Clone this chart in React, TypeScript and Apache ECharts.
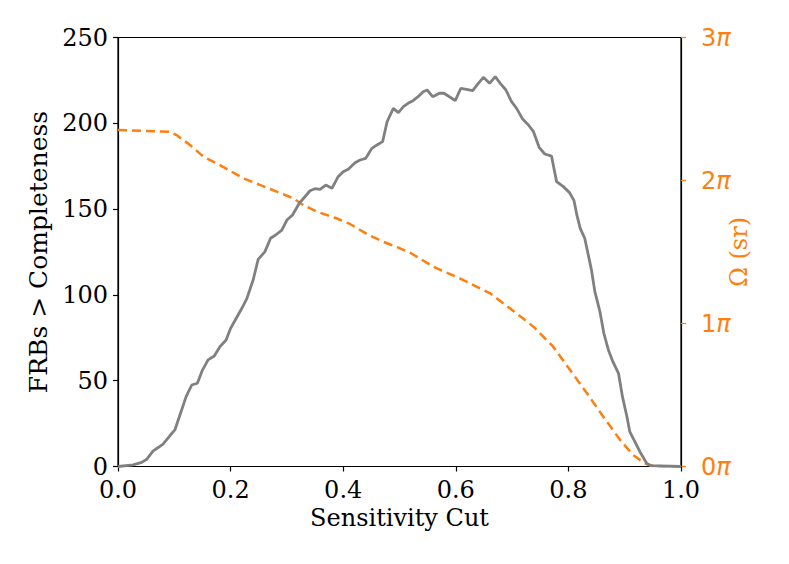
import React, { useEffect, useRef } from "react";
import * as echarts from "echarts";

// Grey curve: FRBs above completeness vs sensitivity cut
const cutX = [0, 0.027, 0.042, 0.051, 0.062, 0.072, 0.08, 0.092, 0.101, 0.11, 0.121, 0.131, 0.141, 0.15, 0.16, 0.171, 0.181, 0.192, 0.2, 0.21, 0.22, 0.229, 0.24, 0.249, 0.261, 0.271, 0.28, 0.291, 0.3, 0.31, 0.322, 0.332, 0.341, 0.35, 0.359, 0.369, 0.38, 0.391, 0.4, 0.409, 0.421, 0.43, 0.44, 0.451, 0.46, 0.47, 0.478, 0.489, 0.498, 0.507, 0.517, 0.524, 0.533, 0.542, 0.549, 0.559, 0.571, 0.579, 0.59, 0.599, 0.609, 0.619, 0.63, 0.64, 0.649, 0.66, 0.67, 0.679, 0.689, 0.699, 0.708, 0.719, 0.729, 0.738, 0.748, 0.758, 0.77, 0.779, 0.791, 0.802, 0.81, 0.815, 0.821, 0.829, 0.837, 0.841, 0.847, 0.856, 0.863, 0.871, 0.879, 0.889, 0.896, 0.904, 0.909, 0.918, 0.927, 0.939, 0.945, 1.0];
const frbCount = [0, 0.9, 2.4, 4.2, 9.0, 11.2, 13.1, 17.9, 21.3, 30.0, 40.7, 47.5, 48.5, 56.2, 62.1, 64.4, 69.8, 73.7, 80.5, 86.4, 92.2, 98.0, 108.7, 120.7, 125.2, 133.0, 134.9, 137.8, 143.6, 146.6, 153.4, 157.2, 160.7, 161.9, 161.5, 164.0, 162.1, 168.9, 171.8, 173.2, 177.0, 178.6, 179.6, 185.4, 187.4, 189.3, 200.9, 208.7, 206.2, 209.7, 212.0, 213.2, 215.5, 218.4, 219.4, 215.5, 217.5, 217.5, 215.2, 213.2, 220.4, 219.8, 219.0, 223.3, 226.8, 223.3, 227.2, 223.3, 219.4, 212.6, 208.7, 202.3, 199.0, 195.1, 186.0, 182.1, 180.9, 166.0, 163.1, 159.6, 154.9, 146.6, 138.8, 133.0, 120.7, 114.5, 101.9, 90.2, 77.6, 67.9, 61.1, 54.3, 40.7, 29.0, 20.3, 14.5, 8.6, 1.9, 0.5, 0];

// Orange dashed curve: solid angle (in units of pi) vs sensitivity cut
const omegaX = [0, 0.092, 0.104, 0.128, 0.152, 0.181, 0.223, 0.252, 0.282, 0.311, 0.329, 0.353, 0.388, 0.412, 0.442, 0.471, 0.501, 0.519, 0.56, 0.607, 0.661, 0.696, 0.738, 0.773, 0.803, 0.833, 0.862, 0.892, 0.915, 0.936, 0.951, 1.0];
const omegaPi = [2.353, 2.341, 2.318, 2.248, 2.166, 2.108, 2.015, 1.969, 1.922, 1.876, 1.829, 1.782, 1.736, 1.696, 1.626, 1.572, 1.526, 1.495, 1.397, 1.316, 1.211, 1.106, 0.978, 0.838, 0.675, 0.512, 0.348, 0.185, 0.08, 0.022, 0.003, 0];

const xTicks = [0, 0.2, 0.4, 0.6, 0.8, 1.0];
const leftTicks = [0, 50, 100, 150, 200, 250];
const rightTicks = [0, 1, 2, 3];

const ORANGE = "#ff7f0e";
const SERIF = "'DejaVu Serif', serif";
const SANS = "'DejaVu Sans', sans-serif";
const FS = 24;

export default function App() {
  const ref = useRef<HTMLDivElement>(null);
  useEffect(() => {
    if (!ref.current) return;
    const chart = echarts.init(ref.current, undefined, { renderer: "svg" });
    const frbData = cutX.map((x, i) => [x, frbCount[i]]);
    const omegaData = omegaX.map((x, i) => [x, omegaPi[i]]);
    chart.setOption({
      animation: false,
      backgroundColor: "#fff",
      grid: {
        left: 118,
        right: 108,
        top: 37.5,
        bottom: 97.5,
        show: true,
        borderColor: "#000",
        borderWidth: 1.2,
        backgroundColor: "transparent",
      },
      graphic: [
        {
          type: "text",
          x: 739,
          y: 252,
          rotation: Math.PI / 2,
          style: {
            text: "Ω (sr)",
            fill: ORANGE,
            font: `${FS}px ${SERIF}`,
            align: "center",
            verticalAlign: "middle",
          },
        },
      ],
      xAxis: {
        type: "value",
        min: 0,
        max: 1,
        interval: 0.2,
        splitLine: { show: false },
        axisLine: { show: true, lineStyle: { color: "#000", width: 1.2 } },
        axisTick: { show: true, length: 5, lineStyle: { color: "#000", width: 1.2 } },
        axisLabel: {
          color: "#000",
          fontFamily: SERIF,
          fontSize: FS,
          lineHeight: 18,
          margin: 14,
          formatter: (v: number) => (xTicks.some((t) => Math.abs(t - v) < 1e-9) ? v.toFixed(1) : ""),
        },
        name: "Sensitivity Cut",
        nameLocation: "middle",
        nameGap: 38,
        nameTextStyle: { color: "#000", fontFamily: SERIF, fontSize: FS },
      },
      yAxis: [
        {
          type: "value",
          position: "left",
          min: 0,
          max: 250,
          interval: 50,
          splitLine: { show: false },
          axisLine: { show: true, lineStyle: { color: "#000", width: 1.2 } },
          axisTick: { show: true, length: 5, lineStyle: { color: "#000", width: 1.2 } },
          axisLabel: {
            color: "#000",
            fontFamily: SERIF,
            fontSize: FS,
            lineHeight: 18,
            margin: 10,
            formatter: (v: number) => (leftTicks.includes(v) ? String(v) : ""),
          },
          name: "FRBs > Completeness",
          nameLocation: "middle",
          nameGap: 64,
          nameTextStyle: { color: "#000", fontFamily: SERIF, fontSize: 25 },
        },
        {
          type: "value",
          position: "right",
          min: 0,
          max: 3,
          interval: 1,
          splitLine: { show: false },
          axisLine: { show: true, lineStyle: { color: "#000", width: 1.2 } },
          axisTick: { show: true, length: 5, lineStyle: { color: ORANGE, width: 1.2 } },
          axisLabel: {
            color: ORANGE,
            margin: 20,
            formatter: (v: number) => (rightTicks.includes(v) ? `{d|${v}}{p|π}` : ""),
            rich: {
              d: { color: ORANGE, fontFamily: SANS, fontSize: FS },
              p: { color: ORANGE, fontFamily: SANS, fontSize: FS, fontStyle: "italic" },
            },
          },
        },
      ],
      series: [
        {
          type: "line",
          yAxisIndex: 1,
          data: omegaData,
          showSymbol: false,
          smooth: false,
          lineStyle: { color: ORANGE, width: 2.5, type: [9, 5] },
          z: 2,
        },
        {
          type: "line",
          yAxisIndex: 0,
          data: frbData,
          showSymbol: false,
          smooth: false,
          lineStyle: { color: "#808080", width: 2.8 },
          z: 3,
        },
      ],
    });
    return () => chart.dispose();
  }, []);
  return (
    <div
      ref={ref}
      style={{ position: "fixed", left: 0, top: 0, width: 789, height: 564, background: "#fff" }}
    />
  );
}
